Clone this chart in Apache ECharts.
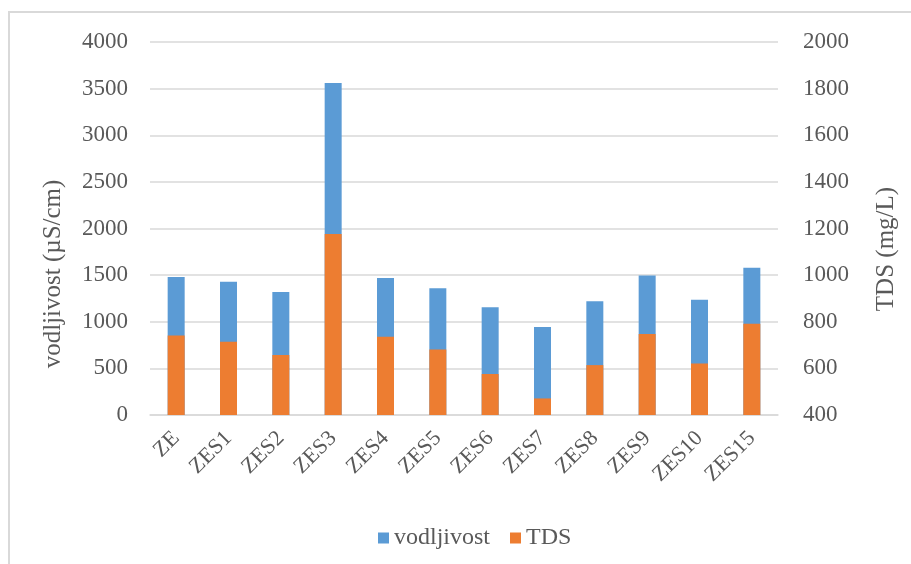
<!DOCTYPE html>
<html>
<head>
<meta charset="utf-8">
<script src="https://cdn.jsdelivr.net/npm/echarts@6/dist/echarts.min.js"></script>
<style>
  html, body { margin: 0; padding: 0; background: #fff; }
  #chart { width: 911px; height: 564px; }
</style>
</head>
<body>
<div id="chart"></div>
<script>
// podaci
var categories = ['ZE', 'ZES1', 'ZES2', 'ZES3', 'ZES4', 'ZES5', 'ZES6', 'ZES7', 'ZES8', 'ZES9', 'ZES10', 'ZES15'];
var vodljivost = [1480, 1430, 1320, 3560, 1470, 1360, 1155, 945, 1220, 1495, 1235, 1580];
var tds = [741, 714, 657, 1176, 736, 681, 576, 471, 614, 747, 621, 791];

var font = 'Liberation Serif, Times New Roman, serif';
var textColor = '#595959';

// brojevi bez razdjelnika tisućica
function plain(v) {
    return String(v);
}

var myChart = echarts.init(document.getElementById('chart'));

var option = {
    backgroundColor: '#fff',
    animation: false,
    grid: { left: 150, right: 133, top: 42, bottom: 149, containLabel: false },
    legend: {
        data: ['vodljivost', 'TDS'],
        left: 373,
        top: 521,
        icon: 'rect',
        itemWidth: 11,
        itemHeight: 11,
        itemGap: 20,
        textStyle: { fontFamily: font, fontSize: 24, color: textColor }
    },
    xAxis: {
        type: 'category',
        data: categories,
        axisLine: { lineStyle: { color: '#d9d9d9', width: 1.5 } },
        axisTick: { show: false },
        axisLabel: { interval: 0, rotate: 45, margin: 20, fontFamily: font, fontSize: 22, color: textColor }
    },
    yAxis: [{
        type: 'value',
        min: 0, max: 4000, interval: 500,
        axisLine: { show: false },
        axisTick: { show: false },
        splitLine: { lineStyle: { color: '#d9d9d9', width: 1.5 } },
        axisLabel: { margin: 22, fontFamily: font, fontSize: 23, color: textColor, formatter: plain }
    }, {
        type: 'value',
        min: 400, max: 2000, interval: 200,
        axisLine: { show: false },
        axisTick: { show: false },
        splitLine: { show: false },
        axisLabel: { margin: 25, fontFamily: font, fontSize: 23, color: textColor, formatter: plain }
    }],
    series: [{
        name: 'vodljivost',
        type: 'bar',
        yAxisIndex: 0,
        barWidth: 17,
        barGap: '-100%',
        itemStyle: { color: '#5B9BD5' },
        data: vodljivost
    }, {
        name: 'TDS',
        type: 'bar',
        yAxisIndex: 1,
        barWidth: 17,
        barGap: '-100%',
        itemStyle: { color: '#ED7D31' },
        data: tds
    }],
    graphic: [{
        type: 'rect',
        shape: { x: 9, y: 12, width: 1200, height: 1000 },
        style: { fill: 'none', stroke: '#d9d9d9', lineWidth: 2 },
        silent: true
    }, {
        type: 'text',
        x: 53, y: 274,
        rotation: Math.PI / 2,
        style: { text: 'vodljivost (µS/cm)', fontFamily: font, fontSize: 25, fill: textColor, textAlign: 'center', textVerticalAlign: 'middle' }
    }, {
        type: 'text',
        x: 886, y: 249,
        rotation: Math.PI / 2,
        style: { text: 'TDS (mg/L)', fontFamily: font, fontSize: 25, fill: textColor, textAlign: 'center', textVerticalAlign: 'middle' }
    }]
};

myChart.setOption(option);
</script>
</body>
</html>
